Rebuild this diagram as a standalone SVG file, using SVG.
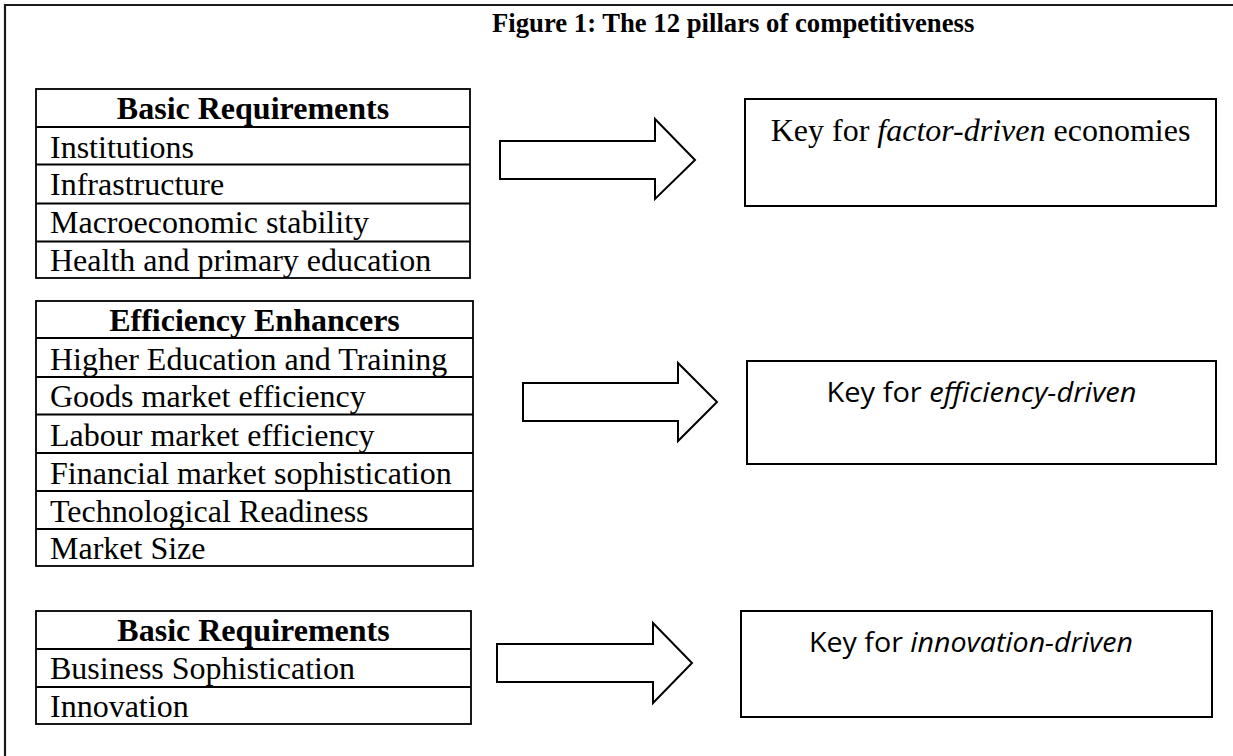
<svg xmlns="http://www.w3.org/2000/svg" width="1233" height="756" viewBox="0 0 1233 756">
  <style>
    .frame { stroke: #1a1a1a; stroke-width: 2.2; fill: none; }
    .tbl { fill: #ffffff; stroke: #000; stroke-width: 1.8; }
    .rule { stroke: #000; stroke-width: 1.8; }
    .key { fill: #ffffff; stroke: #000; stroke-width: 2; }
    .arrow { fill: #ffffff; stroke: #000; stroke-width: 2; stroke-linejoin: miter; }
    .serif { font-family: "Liberation Serif", "Times New Roman", serif; font-size: 32px; fill: #000; }
    .head { font-weight: bold; text-anchor: middle; }
    .title { font-family: "Liberation Serif", "Times New Roman", serif; font-size: 26.7px; font-weight: bold; fill: #000; }
    .sans { font-family: "Open Sans", "Noto Sans", sans-serif; font-size: 28px; fill: #000; text-anchor: middle; }
    .it { font-style: italic; }
  </style>

  <rect width="1233" height="756" fill="#ffffff"/>

  <!-- page frame (open on the right and bottom) -->
  <path class="frame" d="M1233,5 H5 V756"/>

  <g id="title">
    <text class="title" x="492" y="32">Figure 1: The 12 pillars of competitiveness</text>
  </g>

  <!-- pillar tables -->
  <g id="table-basic">
    <rect class="tbl" x="36" y="89" width="434" height="189"/>
    <line class="rule" x1="36" y1="127" x2="470" y2="127"/>
    <line class="rule" x1="36" y1="164.5" x2="470" y2="164.5"/>
    <line class="rule" x1="36" y1="203.5" x2="470" y2="203.5"/>
    <line class="rule" x1="36" y1="241.5" x2="470" y2="241.5"/>
    <text class="serif head" x="253" y="119">Basic Requirements</text>
    <text class="serif" x="50" y="157.5">Institutions</text>
    <text class="serif" x="50" y="195">Infrastructure</text>
    <text class="serif" x="50" y="232.5">Macroeconomic stability</text>
    <text class="serif" x="50" y="270.5">Health and primary education</text>
  </g>

  <g id="table-efficiency">
    <rect class="tbl" x="36" y="301" width="437" height="265"/>
    <line class="rule" x1="36" y1="338" x2="473" y2="338"/>
    <line class="rule" x1="36" y1="377" x2="473" y2="377"/>
    <line class="rule" x1="36" y1="414.5" x2="473" y2="414.5"/>
    <line class="rule" x1="36" y1="453" x2="473" y2="453"/>
    <line class="rule" x1="36" y1="491" x2="473" y2="491"/>
    <line class="rule" x1="36" y1="529" x2="473" y2="529"/>
    <text class="serif head" x="254.5" y="330.5">Efficiency Enhancers</text>
    <text class="serif" x="50" y="369.5">Higher Education and Training</text>
    <text class="serif" x="50" y="407">Goods market efficiency</text>
    <text class="serif" x="50" y="445.5">Labour market efficiency</text>
    <text class="serif" x="50" y="483.5">Financial market sophistication</text>
    <text class="serif" x="50" y="521.5">Technological Readiness</text>
    <text class="serif" x="50" y="559">Market Size</text>
  </g>

  <g id="table-innovation">
    <rect class="tbl" x="36" y="611" width="435" height="113"/>
    <line class="rule" x1="36" y1="649" x2="471" y2="649"/>
    <line class="rule" x1="36" y1="687" x2="471" y2="687"/>
    <text class="serif head" x="253.5" y="641">Basic Requirements</text>
    <text class="serif" x="50" y="679">Business Sophistication</text>
    <text class="serif" x="50" y="717">Innovation</text>
  </g>

  <!-- block arrows -->
  <g id="connectors">
    <polygon class="arrow" points="500,141 655,141 655,119 695,160 655,199 655,179 500,179"/>
    <polygon class="arrow" points="523,383 678,383 678,363 717,402 678,441 678,421 523,421"/>
    <polygon class="arrow" points="497,644 653,644 653,623 692,663 653,703 653,682 497,682"/>
  </g>

  <!-- economy stage boxes -->
  <g id="key-factor">
    <rect class="key" x="745" y="99" width="471" height="107"/>
    <text class="serif" x="980.5" y="141" text-anchor="middle">Key for <tspan class="it">factor-driven</tspan> economies</text>
  </g>

  <g id="key-efficiency">
    <rect class="key" x="747" y="361" width="469" height="103"/>
    <text class="sans" x="981.5" y="402" textLength="310" lengthAdjust="spacingAndGlyphs">Key for <tspan class="it">efficiency-driven</tspan></text>
  </g>

  <g id="key-innovation">
    <rect class="key" x="741" y="611" width="471" height="106"/>
    <text class="sans" x="971" y="652" textLength="324" lengthAdjust="spacingAndGlyphs">Key for <tspan class="it">innovation-driven</tspan></text>
  </g>
</svg>
